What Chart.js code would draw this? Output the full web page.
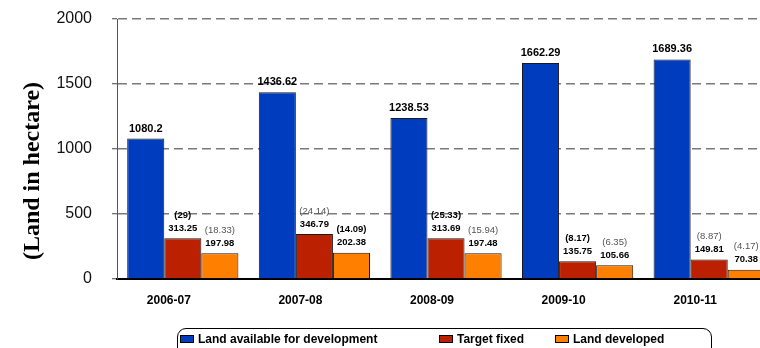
<!DOCTYPE html>
<html>
<head>
<meta charset="utf-8">
<script src="https://cdn.jsdelivr.net/npm/chart.js@4/dist/chart.umd.min.js"></script>
<style>
  html, body { margin: 0; padding: 0; overflow: hidden; background: #fff; width: 760px; height: 348px; }
  #wrap { position: relative; width: 776px; height: 348px; }
  #c { position: absolute; left: 0; top: 0; }
  #legend {
    position: absolute; left: 177px; top: 328px; width: 535px; height: 30px;
    border: 1px solid #000; border-radius: 9px; box-sizing: border-box;
    font: bold 12px "Liberation Sans", Arial, sans-serif; color: #000;
  }
  .item { position: absolute; top: 3px; height: 14px; line-height: 14px; display: flex; align-items: center; white-space: nowrap; }
  .sw { width: 14px; height: 8px; border: 1px solid #000; box-sizing: border-box; margin-right: 4px; }
</style>
</head>
<body>
<div id="wrap">
  <canvas id="c" width="776" height="348"></canvas>
  <div id="legend"></div>
</div>
<script>
// Land statistics by year (hectares)
const categories = ['2006-07', '2007-08', '2008-09', '2009-10', '2010-11'];
const landAvailable = [1080.2, 1436.62, 1238.53, 1662.29, 1689.36];
const targetFixed = [313.25, 346.79, 313.69, 135.75, 149.81];
const landDeveloped = [197.98, 202.38, 197.48, 105.66, 70.38];
// Bracketed figures shown above the target / developed bars
const targetShare = ['29', '24.14', '25.33', '8.17', '8.87'];
const developedShare = ['18.33', '14.09', '15.94', '6.35', '4.17'];
const yTicks = [0, 500, 1000, 1500, 2000];
const seriesNames = ['Land available for development', 'Target fixed', 'Land developed'];

// which bracketed figures are set in bold
const boldTargetShare = [true, false, true, true, false];
const boldDevelopedShare = [false, true, false, false, false];

const SANS = '"Liberation Sans", Arial, sans-serif';
const colors = ['#003cbe', '#bb2000', '#ff8000'];

const barLabels = {
  id: 'barLabels',
  afterDatasetsDraw(chart) {
    const ctx = chart.ctx;
    ctx.save();
    ctx.textAlign = 'center';
    ctx.textBaseline = 'middle';
    chart.data.datasets.forEach((ds, di) => {
      const meta = chart.getDatasetMeta(di);
      meta.data.forEach((bar, i) => {
        ctx.fillStyle = '#000';
        ctx.font = (di === 0 ? 'bold 11px ' : 'bold 9.5px ') + SANS;
        ctx.fillText(String(ds.data[i]), bar.x, bar.y - 10);
        if (ds.share) {
          const bold = ds.shareBold[i];
          ctx.font = (bold ? 'bold 9.5px ' : '9.5px ') + SANS;
          ctx.fillStyle = bold ? '#000' : '#555';
          ctx.fillText('(' + ds.share[i] + ')', bar.x, bar.y - 23);
        }
      });
    });
    ctx.restore();
  }
};

const yTitle = {
  id: 'yTitle',
  afterDraw(chart) {
    const ctx = chart.ctx;
    ctx.save();
    ctx.translate(33, 171);
    ctx.rotate(-Math.PI / 2);
    ctx.textAlign = 'center';
    ctx.textBaseline = 'middle';
    ctx.fillStyle = '#000';
    ctx.font = 'bold 24px "Liberation Serif", "Times New Roman", serif';
    ctx.fillText('(Land in hectare)', 0, 0);
    ctx.restore();
  }
};

const chart = new Chart(document.getElementById('c'), {
  type: 'bar',
  data: {
    labels: categories,
    datasets: [
      { label: seriesNames[0], data: landAvailable, backgroundColor: colors[0] },
      { label: seriesNames[1], data: targetFixed, backgroundColor: colors[1], share: targetShare, shareBold: boldTargetShare },
      { label: seriesNames[2], data: landDeveloped, backgroundColor: colors[2], share: developedShare, shareBold: boldDevelopedShare }
    ].map(d => Object.assign(d, { borderColor: '#1a1a1a', borderWidth: 1, categoryPercentage: 0.845, barPercentage: 1.0 }))
  },
  options: {
    responsive: false,
    animation: false,
    layout: { padding: { top: 19, left: 57, right: 1, bottom: 0 } },
    plugins: { legend: { display: false }, tooltip: { enabled: false } },
    scales: {
      x: {
        grid: { display: false, drawTicks: false },
        border: { display: true, color: '#000', width: 2 },
        ticks: { color: '#000', font: { family: SANS, size: 12, weight: 'bold' }, padding: 14, labelOffset: -14 },
        afterFit(scale) { scale.height = 69; scale.paddingLeft = 0; scale.paddingRight = 0; }
      },
      y: {
        min: 0, max: 2000,
        afterBuildTicks(scale) { scale.ticks = yTicks.map(v => ({ value: v })); },
        grid: {
          color: ctx => (ctx.tick && ctx.tick.value === 0) ? 'rgba(0,0,0,0)' : '#7a7a7a',
          lineWidth: 1.5,
          drawTicks: true, tickLength: 5, tickColor: '#444', tickWidth: 1, tickBorderDash: []
        },
        border: { display: true, color: '#555', width: 1, dash: [9, 5] },
        ticks: { color: '#111', font: { family: SANS, size: 16 }, padding: 20, callback: v => String(v) },
        afterFit(scale) { scale.width = 60; scale.paddingTop = 0; scale.paddingBottom = 0; }
      }
    }
  },
  plugins: [barLabels, yTitle]
});

// Legend built from the chart's own datasets
const legend = document.getElementById('legend');
const itemLeft = [2, 261, 377];
chart.data.datasets.forEach((ds, i) => {
  const item = document.createElement('div');
  item.className = 'item';
  item.style.left = itemLeft[i] + 'px';
  const sw = document.createElement('span');
  sw.className = 'sw';
  sw.style.background = ds.backgroundColor;
  item.appendChild(sw);
  item.appendChild(document.createTextNode(ds.label));
  legend.appendChild(item);
});
</script>
</body>
</html>
